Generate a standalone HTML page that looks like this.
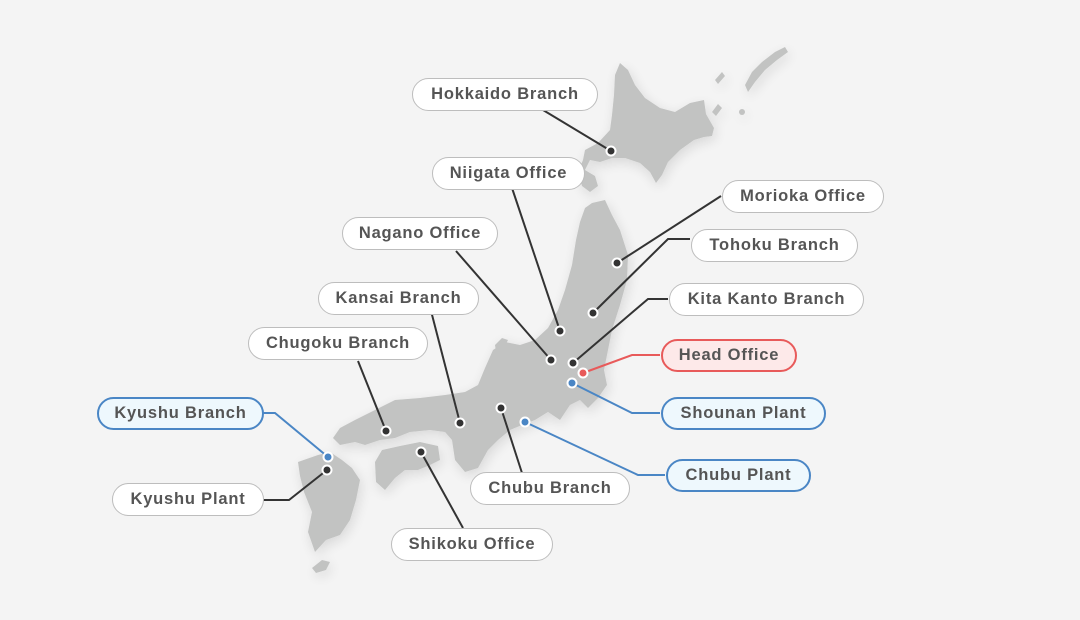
<!DOCTYPE html>
<html><head><meta charset="utf-8"><style>
html,body{margin:0;padding:0;background:#f4f4f4;}
body{width:1080px;height:620px;position:relative;overflow:hidden;font-family:"Liberation Sans",sans-serif;}
svg{position:absolute;left:0;top:0;}
.p{position:absolute;box-sizing:border-box;height:33px;border:1px solid #bdbdbd;background:#fff;border-radius:17px;color:#555;font-weight:bold;font-size:16.5px;letter-spacing:0.8px;display:flex;align-items:center;justify-content:center;white-space:nowrap;}
.r{border:2px solid #e85a5a;background:#fde9e9;}
.b{border:2px solid #4a86c5;background:#eef8fd;}
</style></head><body>
<svg width="1080" height="620" viewBox="0 0 1080 620">
<defs><filter id="sh" x="-10%" y="-10%" width="120%" height="120%"><feGaussianBlur in="SourceAlpha" stdDeviation="6"/><feOffset dx="2" dy="4"/><feComponentTransfer><feFuncA type="linear" slope="0.12"/></feComponentTransfer><feMerge><feMergeNode/><feMergeNode in="SourceGraphic"/></feMerge></filter></defs>
<g fill="#c2c3c2" filter="url(#sh)">
<polygon points="620,63 628,70 635,85 645,98 660,108 675,112 690,103 704,100 706,114 714,128 712,136 704,137 694,140 680,150 668,162 662,175 656,183 650,172 640,163 625,158 612,158 600,162 590,160 585,170 595,176 598,186 590,192 582,186 578,172 583,160 585,150 598,143 610,130 612,115 614,95 615,75"/>
<polygon points="712,112 718,104 722,108 716,116"/>
<polygon points="715,80 722,72 725,76 718,84"/>
<polygon points="745,85 752,72 762,62 775,52 785,47 788,52 777,60 765,70 755,82 748,92"/>
<circle cx="742" cy="112" r="3"/>
<polygon points="592,203 605,200 612,215 620,230 628,255 627,280 620,305 612,330 608,350 604,370 607,385 598,398 588,408 580,400 570,405 560,420 548,412 535,420 522,425 510,430 498,440 488,450 478,468 465,472 455,460 452,440 445,432 430,430 410,432 395,438 380,440 365,445 355,442 340,445 333,438 340,428 355,420 375,410 395,400 420,398 445,395 465,392 478,385 485,368 493,350 505,342 520,345 535,340 548,328 558,310 565,290 572,265 576,240 580,222 585,208"/>
<polygon points="495,345 502,338 508,340 503,350 496,352"/>
<polygon points="375,462 382,450 400,446 420,442 438,446 440,460 430,465 418,470 405,470 395,478 385,490 376,482"/>
<polygon points="298,462 318,455 330,452 342,460 352,468 360,480 356,500 350,520 340,535 326,540 315,552 308,532 312,512 304,492 300,476"/>
<polygon points="312,568 322,560 330,562 326,570 316,573"/>
</g>
<g fill="none" stroke-width="2">
<g stroke="#333">
<polyline points="543,110 611,151"/>
<polyline points="512,188 560,331"/>
<polyline points="456,251 551,360"/>
<polyline points="721,196 617,263"/>
<polyline points="690,239 668,239 593,313"/>
<polyline points="668,299 648,299 573,363"/>
<polyline points="522,473 501,408"/>
<polyline points="430,307 460,423"/>
<polyline points="358,361 386,431"/>
<polyline points="263,500 289,500 327,470"/>
<polyline points="463,528 421,452"/>
</g>
<polyline stroke="#e85a5a" points="660,355 632,355 583,373"/>
<g stroke="#4a86c5">
<polyline points="660,413 632,413 572,383"/>
<polyline points="665,475 638,475 525,422"/>
<polyline points="263,413 275,413 328,457"/>
</g>
</g>
<g stroke="#fff" stroke-width="2">
<g fill="#333">
<circle cx="611" cy="151" r="4.5"/><circle cx="560" cy="331" r="4.5"/><circle cx="551" cy="360" r="4.5"/>
<circle cx="617" cy="263" r="4.5"/><circle cx="593" cy="313" r="4.5"/><circle cx="573" cy="363" r="4.5"/>
<circle cx="501" cy="408" r="4.5"/><circle cx="460" cy="423" r="4.5"/><circle cx="386" cy="431" r="4.5"/>
<circle cx="327" cy="470" r="4.5"/><circle cx="421" cy="452" r="4.5"/>
</g>
<circle fill="#e85a5a" cx="583" cy="373" r="4.5"/>
<g fill="#4a86c5"><circle cx="572" cy="383" r="4.5"/><circle cx="525" cy="422" r="4.5"/><circle cx="328" cy="457" r="4.5"/></g>
</g>
</svg>
<div class="p" style="left:412px;top:78px;width:186px">Hokkaido Branch</div>
<div class="p" style="left:432px;top:157px;width:153px">Niigata Office</div>
<div class="p" style="left:722px;top:180px;width:162px">Morioka Office</div>
<div class="p" style="left:342px;top:217px;width:156px">Nagano Office</div>
<div class="p" style="left:691px;top:229px;width:167px">Tohoku Branch</div>
<div class="p" style="left:318px;top:282px;width:161px">Kansai Branch</div>
<div class="p" style="left:669px;top:283px;width:195px">Kita Kanto Branch</div>
<div class="p" style="left:248px;top:327px;width:180px">Chugoku Branch</div>
<div class="p r" style="left:661px;top:339px;width:136px">Head Office</div>
<div class="p b" style="left:97px;top:397px;width:167px">Kyushu Branch</div>
<div class="p b" style="left:661px;top:397px;width:165px">Shounan Plant</div>
<div class="p b" style="left:666px;top:459px;width:145px">Chubu Plant</div>
<div class="p" style="left:112px;top:483px;width:152px">Kyushu Plant</div>
<div class="p" style="left:470px;top:472px;width:160px">Chubu Branch</div>
<div class="p" style="left:391px;top:528px;width:162px">Shikoku Office</div>
</body></html>
